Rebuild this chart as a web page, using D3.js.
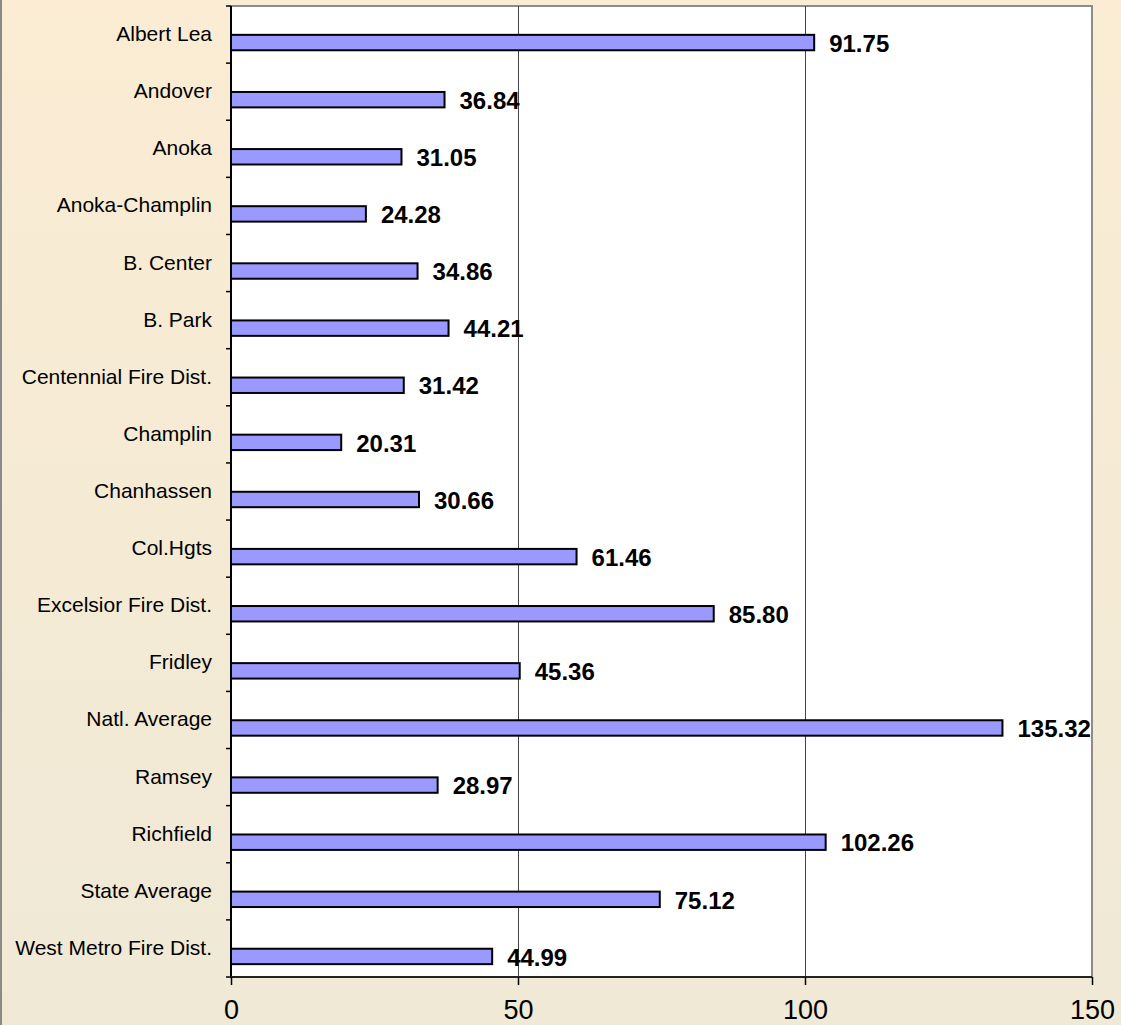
<!DOCTYPE html>
<html>
<head>
<meta charset="utf-8">
<script src="https://cdn.jsdelivr.net/npm/d3@7"></script>
<style>
  html, body { margin: 0; padding: 0; background: #fff; }
  svg { display: block; }
</style>
</head>
<body>
<svg id="chart" width="1121" height="1025"></svg>
<script>
// ---- data ----
const categories = [
  "Albert Lea", "Andover", "Anoka", "Anoka-Champlin", "B. Center", "B. Park",
  "Centennial Fire Dist.", "Champlin", "Chanhassen", "Col.Hgts",
  "Excelsior Fire Dist.", "Fridley", "Natl. Average", "Ramsey", "Richfield",
  "State Average", "West Metro Fire Dist."
];
// bar lengths as drawn in the picture
const barValues = [101.6, 37.2, 29.7, 23.5, 32.5, 37.9, 30.1, 19.2, 32.75, 60.2,
                   84.1, 50.3, 134.4, 36.0, 103.6, 74.7, 45.5];
// value labels as printed in the picture
const valueLabels = ["91.75", "36.84", "31.05", "24.28", "34.86", "44.21", "31.42",
                     "20.31", "30.66", "61.46", "85.80", "45.36", "135.32", "28.97",
                     "102.26", "75.12", "44.99"];
const xTicks = [0, 50, 100, 150];

// ---- layout ----
const W = 1121, H = 1025;
const plot = { left: 231, top: 6, right: 1092, bottom: 977 };
const font = "Arial, 'Liberation Sans', Helvetica, sans-serif";

const svg = d3.select("#chart");
const defs = svg.append("defs");
const grad = defs.append("linearGradient").attr("id", "bg")
  .attr("x1", 0).attr("y1", 0).attr("x2", 0).attr("y2", 1);
grad.append("stop").attr("offset", "0%").attr("stop-color", "#FBECD3");
grad.append("stop").attr("offset", "100%").attr("stop-color", "#EFE9D6");

svg.append("rect").attr("x", 0).attr("y", 0).attr("width", W).attr("height", H)
  .attr("fill", "url(#bg)");
// left chart-area border
svg.append("line").attr("x1", 1).attr("x2", 1).attr("y1", 0).attr("y2", H)
  .attr("stroke", "#8a8a8a").attr("stroke-width", 2);

const x = d3.scaleLinear().domain([0, 150]).range([plot.left, plot.right]);
const y = d3.scaleBand().domain(categories).range([plot.top, plot.bottom]).paddingInner(0).paddingOuter(0);
const step = y.step();

// plot area
svg.append("rect").attr("x", plot.left).attr("y", plot.top)
  .attr("width", plot.right - plot.left).attr("height", plot.bottom - plot.top)
  .attr("fill", "#ffffff");

// top & right border (gray)
svg.append("path")
  .attr("d", `M${plot.left},${plot.top}H${plot.right}V${plot.bottom}`)
  .attr("fill", "none").attr("stroke", "#8c8c8c").attr("stroke-width", 2);

// vertical gridlines
svg.append("g").selectAll("line").data(xTicks.filter(d => d > 0 && d < 150)).join("line")
  .attr("x1", d => Math.round(x(d)) + 0.5).attr("x2", d => Math.round(x(d)) + 0.5)
  .attr("y1", plot.top).attr("y2", plot.bottom)
  .attr("stroke", "#444").attr("stroke-width", 1);

// bars
svg.append("g").selectAll("rect").data(categories).join("rect")
  .attr("x", x(0))
  .attr("y", (d) => y(d) + step * 0.505)
  .attr("width", (d, i) => x(barValues[i]) - x(0))
  .attr("height", step * 0.27)
  .attr("fill", "#9999FF")
  .attr("stroke", "#000").attr("stroke-width", 2);

// value labels
svg.append("g").selectAll("text").data(categories).join("text")
  .attr("x", (d, i) => x(barValues[i]) + 15)
  .attr("y", (d) => y(d) + step * 0.505 + step * 0.27 + 1.5)
  .attr("font-family", font).attr("font-size", 24).attr("font-weight", "bold")
  .attr("fill", "#000")
  .text((d, i) => valueLabels[i]);

// y axis
const yAxis = d3.axisLeft(y).tickSize(0).tickFormat(() => "");
svg.append("g").attr("transform", `translate(${plot.left},0)`).call(yAxis)
  .call(g => g.select(".domain").remove());
// tick marks at band boundaries
const boundaries = categories.map(c => y(c)).concat([plot.bottom]);
svg.append("g").selectAll("line").data(boundaries).join("line")
  .attr("x1", plot.left - 5).attr("x2", plot.left)
  .attr("y1", d => d).attr("y2", d => d)
  .attr("stroke", "#000").attr("stroke-width", 1.5);
svg.append("line").attr("x1", plot.left).attr("x2", plot.left)
  .attr("y1", plot.top).attr("y2", plot.bottom + 1)
  .attr("stroke", "#000").attr("stroke-width", 2);
// category labels
svg.append("g").selectAll("text").data(categories).join("text")
  .attr("x", 212)
  .attr("y", d => y(d) + step / 2 + 6.5)
  .attr("text-anchor", "end")
  .attr("font-family", font).attr("font-size", 21)
  .attr("fill", "#000")
  .text(d => d);

// x axis
const xAxis = d3.axisBottom(x).tickValues(xTicks).tickSize(8).tickPadding(0).tickFormat(d3.format("d"));
const gx = svg.append("g").attr("transform", `translate(0,${plot.bottom})`).call(xAxis);
gx.select(".domain").attr("stroke", "#222").attr("stroke-width", 2)
  .attr("d", `M${plot.left},0H${plot.right}`);
gx.selectAll(".tick line").attr("stroke", "#000").attr("stroke-width", 1.5);
gx.selectAll(".tick text")
  .attr("font-family", font).attr("font-size", 27).attr("fill", "#000")
  .attr("dy", null).attr("y", 42);
</script>
</body>
</html>
